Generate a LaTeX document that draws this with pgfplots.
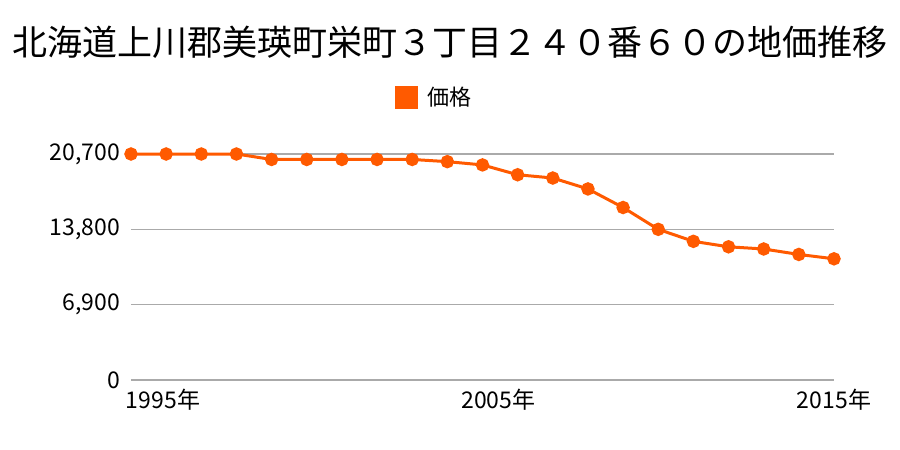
\documentclass[border=0pt]{standalone}
\usepackage{fontspec}
\setmainfont{Noto Sans CJK JP}
\usepackage{pgfplots}
\pgfplotsset{compat=1.18}
\definecolor{price}{HTML}{FF5A00}
\definecolor{gridgray}{HTML}{AAAAAA}

\begin{document}
\begin{tikzpicture}[x=1pt,y=1pt]
\begin{axis}[
  at={(0,0)}, anchor=south west,
  scale only axis,
  width=351.5pt, height=113pt,
  xmin=1995, xmax=2015,
  ymin=0, ymax=20700,
  clip=false,
  scaled y ticks=false,
  axis line style={draw=none},
  tick style={draw=none},
  ytick={0,6900,13800,20700},
  yticklabels={0,{6,900},{13,800},{20,700}},
  yticklabel style={font=\fontsize{11.5}{13}\selectfont, xshift=-2pt},
  xtick={1995,2005,2015},
  xticklabels={{\hspace*{32pt}1995年},{\hspace*{16pt}2005年},{2015年}},
  xticklabel style={font=\fontsize{11.5}{13}\selectfont, anchor=north, yshift=-1pt},
  ymajorgrids,
  major grid style={gridgray, line width=0.6pt},
  legend style={draw=none, at={(153.5pt,141pt)}, anchor=center,
    font=\fontsize{11}{13}\selectfont, legend cell align=left,
    nodes={inner xsep=5pt}},
  legend image code/.code={\fill[price] (0pt,-5pt) rectangle (10pt,5pt);},
]
\addplot[price, line width=1.5pt, mark=*, mark size=2.6pt,
  mark options={fill=price, draw=price}] coordinates {
(1995,20700) (1996,20700) (1997,20700) (1998,20700) (1999,20200)
(2000,20200) (2001,20200) (2002,20200) (2003,20200) (2004,20000)
(2005,19700) (2006,18800) (2007,18500) (2008,17500) (2009,15800)
(2010,13800) (2011,12700) (2012,12200) (2013,12000) (2014,11500)
(2015,11100)};
\addlegendentry{価格}
\end{axis}
\node[font=\fontsize{17.5}{20}\selectfont] at (159.5pt,169pt) {北海道上川郡美瑛町栄町３丁目２４０番６０の地価推移};
\pgfresetboundingbox
\path[use as bounding box] (-65.5pt,-35pt) rectangle (384.5pt,190pt);
\end{tikzpicture}
\end{document}
